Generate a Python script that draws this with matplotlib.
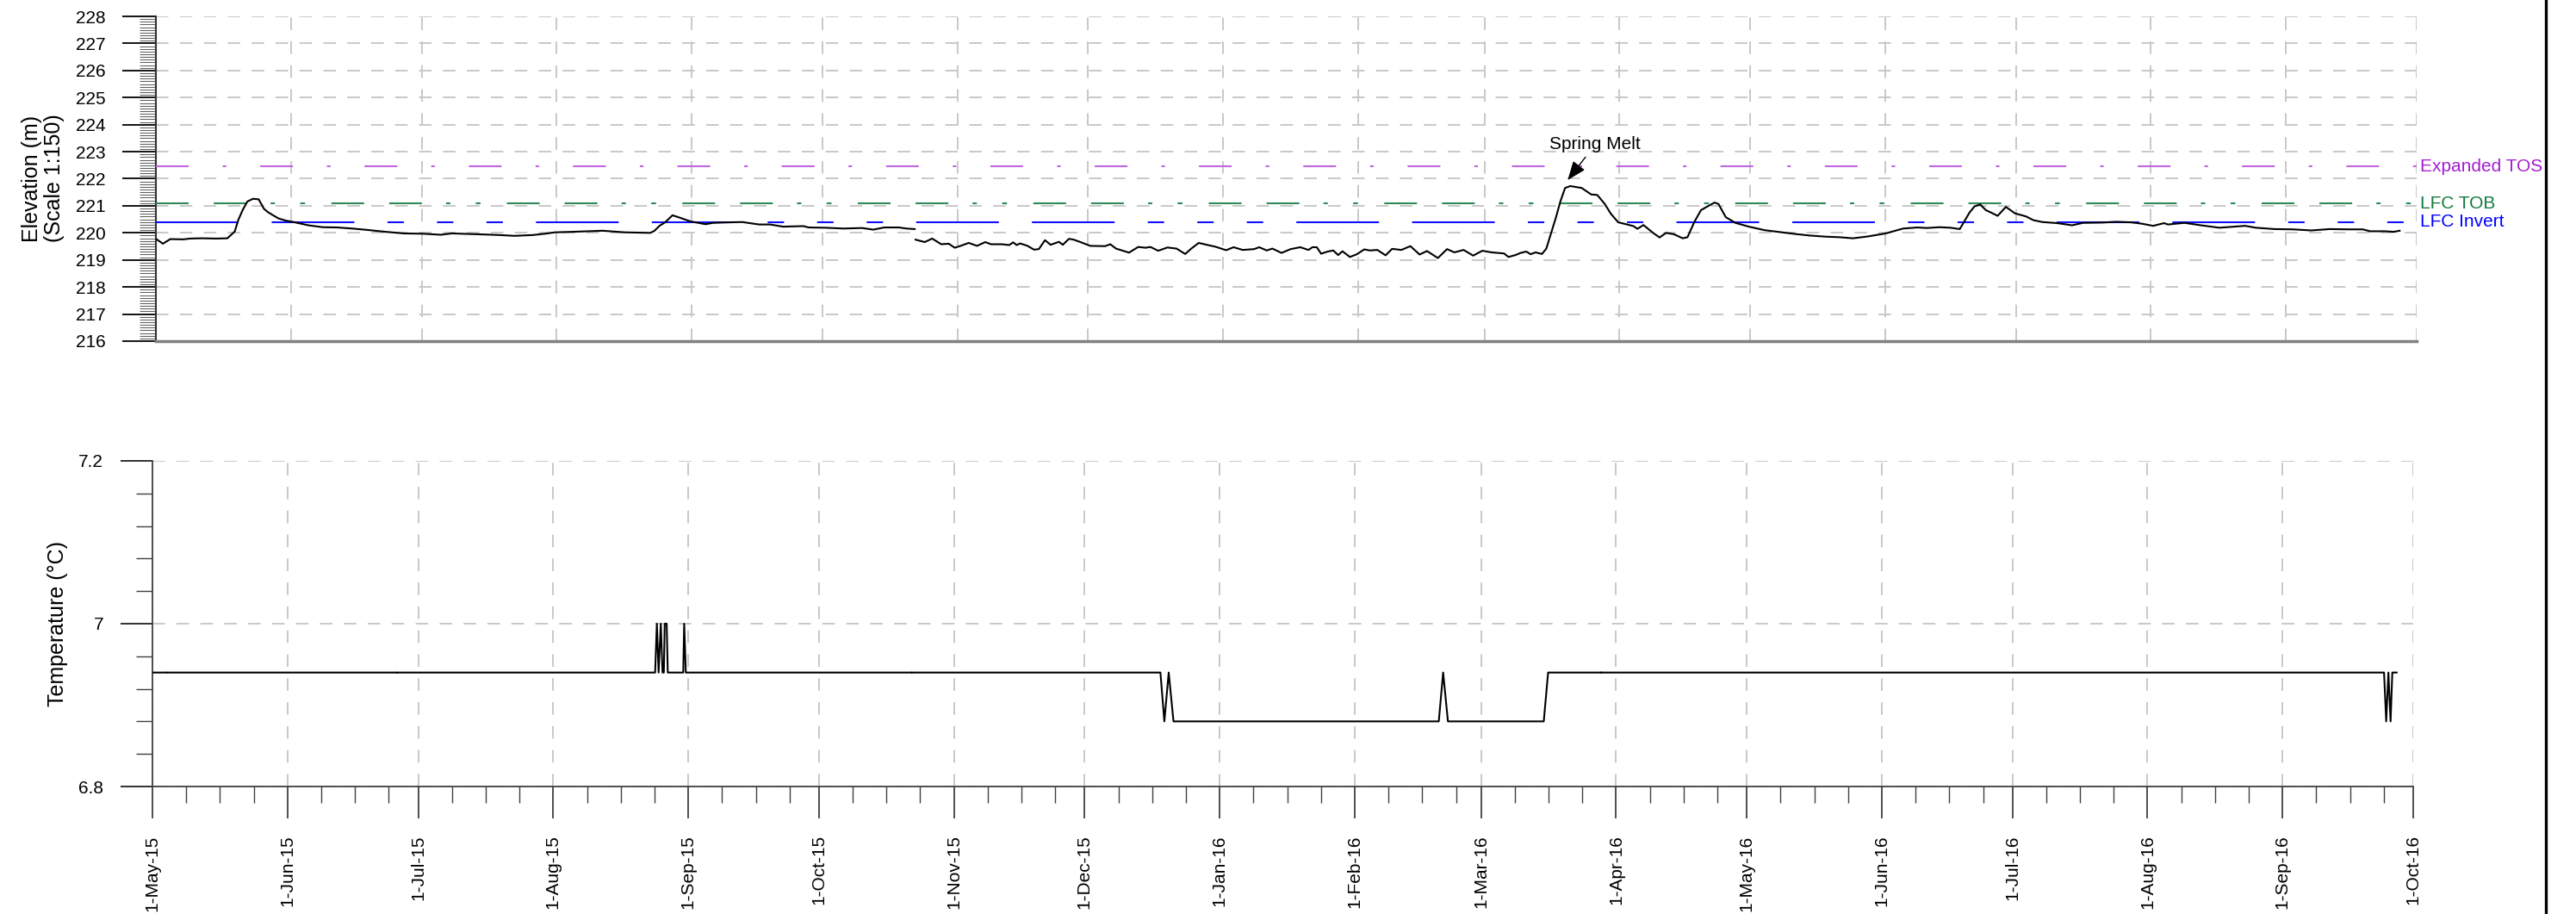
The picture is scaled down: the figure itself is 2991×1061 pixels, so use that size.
#--- Imports ---
import numpy as np
import pandas as pd
import matplotlib
matplotlib.use('Agg')
import matplotlib.pyplot as plt
import matplotlib.dates as mdates
from matplotlib.ticker import MultipleLocator, FixedLocator, FuncFormatter, FormatStrFormatter
from matplotlib.transforms import blended_transform_factory
from matplotlib.lines import Line2D

plt.rcParams['font.family'] = ['Liberation Sans', 'DejaVu Sans']
plt.rcParams['lines.scale_dashes'] = False

nan = float('nan')

#--- Data (days since 1-May-15) ---
start = pd.Timestamp('2015-05-01')
end = pd.Timestamp('2016-10-01')

# water level (m)
elev_day = [0.2, 1.6, 3.3, 6.3, 7.9, 10.4, 13.9, 16.4, 18.1, 18.9, 19.9, 21.0, 22.3, 23.6,
            24.8, 25.7, 26.9, 28.2, 29.9, 31.6, 35.0, 38.3, 41.7, 45.1, 48.5, 52.7, 56.9,
            61.2, 65.4, 67.9, 73.8, 78.9, 82.3, 86.5, 89.4, 91.6, 95.8, 102.5, 107.6, 113.5,
            114.4, 115.6, 116.9, 118.6, 120.3, 122.8, 126.2, 127.9, 131.7, 134.7, 135.9,
            138.5, 141.0, 144.0, 148.6, 149.9, 153.7, 157.9, 162.1, 164.7, 167.2, 170.6,
            172.3, 174.2, 174.3,
            174.4, 176.5, 178.2, 180.3, 182.0, 183.4, 184.9, 186.6, 188.5, 190.4, 191.7,
            194.2, 195.9, 196.8, 197.6, 198.4, 200.1, 201.6, 202.7, 204.1, 205.4, 207.3,
            208.2, 209.6, 210.7, 212.4, 214.5, 217.9, 219.1, 220.4, 223.4, 225.5, 227.2,
            228.3, 230.1, 232.2, 234.3, 236.3, 237.7, 239.4, 241.5, 243.2, 245.7, 247.4,
            249.5, 252.1, 253.3, 255.0, 256.3, 258.4, 260.5, 262.7, 264.6, 265.5, 266.5,
            267.5, 269.0, 270.3, 271.4, 272.4, 274.1, 275.7, 277.4, 278.7, 280.4, 282.3,
            283.8, 285.9, 288.0, 290.1, 291.8, 294.3, 296.4, 298.1, 300.2, 302.4, 304.5,
            306.6, 309.5, 310.5, 312.1, 313.3, 314.6, 315.6, 316.7, 318.2, 319.2, 320.1,
            321.4, 322.4, 323.5, 324.7, 327.3, 329.5, 330.9, 332.6, 334.0, 335.7, 337.5,
            339.2, 340.1, 341.5, 343.7, 345.2, 346.7, 348.5, 350.5, 351.6, 353.2, 354.7,
            356.0, 357.8, 358.7, 360.4, 362.6, 365.7, 369.3, 372.8, 376.3, 379.8, 383.4,
            386.5, 389.6, 393.1, 397.1, 398.9, 401.1, 404.4, 406.5, 409.5, 412.0, 414.1,
            415.0, 416.3, 417.5, 418.8, 420.1, 421.3, 422.8, 424.7, 426.8, 429.3, 431.0,
            433.1, 436.5, 439.9, 442.4, 446.7, 450.0, 453.4, 455.9, 458.5, 461.0, 461.9,
            465.7, 469.5, 473.7, 477.1, 479.6, 482.1, 486.4, 490.6, 494.8, 499.0, 503.3,
            506.6, 508.3, 511.7, 513.8, 515.1]
elev_m = [219.76, 219.60, 219.77, 219.76, 219.79, 219.80, 219.79, 219.80, 220.05, 220.47,
          220.84, 221.16, 221.26, 221.24, 220.89, 220.77, 220.65, 220.53, 220.45, 220.40,
          220.28, 220.21, 220.20, 220.16, 220.11, 220.04, 219.98, 219.97, 219.93, 219.98,
          219.95, 219.92, 219.89, 219.92, 219.97, 220.02, 220.04, 220.08, 220.02, 220.00,
          220.07, 220.26, 220.39, 220.65, 220.56, 220.42, 220.32, 220.37, 220.39, 220.40,
          220.37, 220.31, 220.31, 220.23, 220.25, 220.20, 220.19, 220.16, 220.18, 220.12,
          220.20, 220.20, 220.16, 220.14, nan,
          219.75, 219.66, 219.79, 219.58, 219.60, 219.45, 219.53, 219.63, 219.52, 219.66,
          219.58, 219.58, 219.55, 219.65, 219.55, 219.61, 219.52, 219.38, 219.40, 219.73,
          219.56, 219.67, 219.56, 219.78, 219.75, 219.65, 219.52, 219.51, 219.58, 219.42,
          219.27, 219.48, 219.45, 219.48, 219.34, 219.46, 219.42, 219.22, 219.42, 219.63,
          219.55, 219.49, 219.36, 219.47, 219.37, 219.40, 219.47, 219.35, 219.42, 219.26,
          219.40, 219.47, 219.37, 219.47, 219.47, 219.23, 219.31, 219.35, 219.18, 219.32,
          219.11, 219.21, 219.39, 219.35, 219.37, 219.17, 219.41, 219.37, 219.51, 219.20,
          219.33, 219.07, 219.40, 219.28, 219.37, 219.16, 219.34, 219.28, 219.24, 219.11,
          219.18, 219.26, 219.31, 219.21, 219.28, 219.22, 219.42, 219.89, 220.57, 221.15,
          221.66, 221.73, 221.66, 221.42, 221.40, 221.07, 220.71, 220.39, 220.32, 220.25,
          220.15, 220.29, 220.00, 219.83, 220.00, 219.95, 219.80, 219.84, 220.41, 220.84,
          220.96, 221.12, 221.07, 220.58, 220.37, 220.23, 220.10, 220.03, 219.96, 219.90,
          219.86, 219.84, 219.80, 219.87, 219.98, 220.06, 220.16, 220.20, 220.18, 220.21,
          220.19, 220.14, 220.38, 220.74, 220.98, 221.05, 220.84, 220.75, 220.63, 220.96,
          220.72, 220.61, 220.47, 220.40, 220.36, 220.28, 220.37, 220.38, 220.41, 220.39,
          220.34, 220.26, 220.36, 220.31, 220.37, 220.28, 220.19, 220.23, 220.26, 220.19,
          220.14, 220.13, 220.09, 220.14, 220.13, 220.13, 220.06, 220.06, 220.04, 220.08]

# water temperature (deg C)
temp_day = [0, 3.1, 3.2, 3.4, 56.0, 56.1, 56.3, 115.4, 115.8, 116.2, 116.7, 117.1, 117.4,
            117.6, 118.05, 118.3, 121.85, 122.07, 122.44, 174.2, 174.3, 174.5, 231.4, 232.3,
            233.3, 234.4, 295.3, 296.3, 297.4, 319.4, 320.4, 332.5, 332.6, 332.7, 512.3,
            512.8, 513.3, 513.8, 514.2, 515.2]
temp_c = [6.94, 6.94, nan, 6.94, 6.94, nan, 6.94, 6.94, 7.0, 6.94, 7.0,
          6.94, 6.94, 7.0, 7.0, 6.94, 6.94, 7.0, 6.94, 6.94, nan, 6.94,
          6.94, 6.88, 6.94, 6.88, 6.88, 6.94, 6.88, 6.88, 6.94, 6.94, nan,
          6.94, 6.94, 6.88, 6.94, 6.88, 6.94, 6.94]

# design levels (m)
ref_names = ['Expanded TOS', 'LFC TOB', 'LFC Invert']
ref_levels = [222.46, 221.09, 220.40]

spring_melt_day = 324.1
spring_melt_level = 221.95


def to_dates(days):
    return start + pd.to_timedelta(np.asarray(days, dtype=float), unit='D')


#--- Figure ---
fig = plt.figure(figsize=(29.91, 10.61), dpi=100)
ax1 = fig.add_axes([0.06052, 0.62677, 0.87763, 0.35532])
ax2 = fig.add_axes([0.05918, 0.13949, 0.87763, 0.35627])

grid_kw = dict(color='#c8c8c8', linestyle=(0, (10.5, 9.5)), linewidth=1.4)

month_starts = pd.date_range(start, end, freq='MS')
minor_x = [m + pd.Timedelta(days=7.75 * k) for m in month_starts[:-1] for k in (1, 2, 3)]

for ax in (ax1, ax2):
    ax.set_xlim(start, end)
    ax.xaxis.set_major_locator(mdates.MonthLocator(bymonthday=1))
    ax.set_axisbelow(True)
    ax.grid(True, which='major', **grid_kw)
    ax.spines['top'].set_visible(False)
    ax.spines['right'].set_visible(False)

#--- Elevation panel ---
ax1.plot(to_dates(elev_day), elev_m, color='black', lw=1.5, zorder=4)

ref_colors = ['#c066e0', '#2e8b57', '#1010ff']
text_colors = ['#a21fcf', '#137a3c', '#0000ff']
ref_styles = [(0, (27.4, 28.4, 3.0, 28.4)),
              (0, (27.4, 20.9, 27.4, 20.2, 3.6, 21.2, 4.0, 22.0)),
              (0, (69.1, 27.7, 69.1, 27.7, 13.7, 27.7, 13.7, 27.7, 13.7, 27.7))]
trans = blended_transform_factory(ax1.transAxes, ax1.transData)
for name, lev, c, tc, ls in zip(ref_names, ref_levels, ref_colors, text_colors, ref_styles):
    ax1.axhline(lev, color=c, lw=1.5, linestyle=ls, zorder=3)
    ax1.text(1.0017, lev, name, transform=trans, color=tc, fontsize=15,
             ha='left', va='center')

ax1.annotate('Spring Melt',
             xy=(to_dates([spring_melt_day])[0], spring_melt_level),
             xytext=(to_dates([spring_melt_day + 6.3])[0], spring_melt_level + 1.31),
             ha='center', va='center', fontsize=15,
             arrowprops=dict(arrowstyle='-|>,head_length=0.9,head_width=0.35',
                             color='black', lw=1.0, shrinkA=2, shrinkB=0))

ax1.set_ylim(216, 228)
ax1.yaxis.set_major_locator(MultipleLocator(1))
ax1.yaxis.set_minor_locator(MultipleLocator(0.1))
ax1.yaxis.set_major_formatter(FormatStrFormatter('%d'))
ax1.tick_params(axis='y', which='major', direction='out', length=28, width=1.3,
                color='black', labelsize=15, pad=14)
ax1.tick_params(axis='y', which='minor', direction='out', length=14, width=0.75,
                color='#606060')
ax1.tick_params(axis='x', which='both', length=0, labelbottom=False)
ax1.spines['left'].set_color('#303030')
ax1.spines['left'].set_linewidth(1.5)
ax1.spines['bottom'].set_color('#808080')
ax1.spines['bottom'].set_linewidth(2.5)

fig.text(50 / 2991, 1 - 207 / 1061, 'Elevation (m)\n(Scale 1:150)', rotation=90,
         ha='center', va='center', fontsize=18, linespacing=1.15)

#--- Temperature panel ---
ax2.plot(to_dates(temp_day), temp_c, color='black', lw=1.5, zorder=4)
ax2.set_ylim(6.8, 7.2)
ax2.yaxis.set_major_locator(FixedLocator([6.8, 7.0, 7.2]))
ax2.yaxis.set_minor_locator(MultipleLocator(0.04))
ax2.yaxis.set_major_formatter(FuncFormatter(lambda v, p: f'{v:g}'))
ax2.xaxis.set_minor_locator(FixedLocator(mdates.date2num(minor_x)))
ax2.xaxis.set_major_formatter(
    FuncFormatter(lambda v, p: f"{mdates.num2date(v).day}-{mdates.num2date(v).strftime('%b-%y')}"))
ax2.tick_params(axis='y', which='major', direction='out', length=27, width=1.3,
                color='#202020', labelsize=15, pad=14)
ax2.tick_params(axis='y', which='minor', direction='out', length=14, width=1.0,
                color='#404040')
ax2.tick_params(axis='x', which='major', direction='out', length=26.5, width=1.3,
                color='#404040', labelsize=15, pad=14, labelrotation=90)
ax2.tick_params(axis='x', which='minor', direction='out', length=13.5, width=1.0,
                color='#404040')
for s in ('left', 'bottom'):
    ax2.spines[s].set_color('#404040')
    ax2.spines[s].set_linewidth(1.3)

fig.text(67 / 2991, 1 - 724 / 1061, 'Temperature (°C)', rotation=90,
         ha='center', va='center', fontsize=18)

# page border on the right
fig.add_artist(Line2D([2956 / 2991, 2956 / 2991], [0, 1], transform=fig.transFigure,
                      color='black', lw=2.4))

fig.savefig('out.png', dpi=100, facecolor='white')
